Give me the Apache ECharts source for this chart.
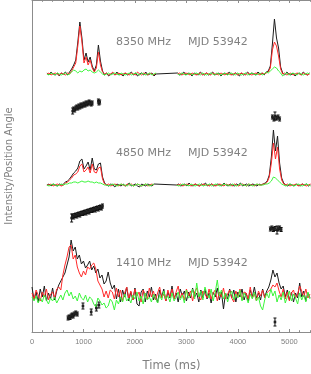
<!DOCTYPE html>
<html>
<head>
<meta charset="utf-8">
<script src="https://cdn.jsdelivr.net/npm/echarts@6/dist/echarts.min.js"></script>
<style>html,body{margin:0;padding:0;background:#fff}#c{width:311px;height:374px}</style>
</head>
<body>
<div id="c"></div>
<script>
// ---- Data (time step 40 ms) ----
const STEP = 40;
const X_MIN = 0, X_MAX = 5420;
const X_TICKS = [0, 1000, 2000, 3000, 4000, 5000];
const BANDS = ['8350 MHz', '4850 MHz', '1410 MHz'];
const EPOCH = 'MJD 53942';

// 8350 MHz: two segments, starting 290 ms and 2830 ms
const START_8350 = [290, 2830];
const I8350a = [1,-1,2,0,-1,1,-2,1,0,2,-1,2, 5,9,14,32,52,36,14,21,12,17,8,3,9,29,13,3, -1,1,-2,0,1,-1,2,-1,0,-2,1,-1,0,2,-1,1,-2,0,1,-1,2,-1,0,1,-2,0];
const L8350a = [0,1,-1,0,1,0,-1,1,0,-1,1,0, 3,7,11,28,48,32,11,17,9,14,6,2,6,22,9,2, 0,1,-1,0,2,-1,0,1,-1,0,1,0,-1,1,0,-1,2,0,-1,1,0,-1,1,0,-1,1];
const V8350a = [0,-1,1,0,-1,1,0,-1,0,1,-1,0, 2,4,3,1,3,2,4,5,3,4,2,1,2,4,2,0, -1,0,1,-1,0,1,0,-1,1,0,-1,0,1,-1,0,1,0,-1,1,0,-1,0,1,-1,0,1];
const I8350b = [1,-1,0,2,-1,1,0,-2,1,0,-1,2,0,-1,1,-1,0,2,-1,0,1,-2,0,1,-1,2,0,-1,1,0,-2,1,-1,0,2,-1,1,0,-1,2,0,1,-1,2, 3,8,30,55,36,26,7,1, -1,2,0,-1,1,-2,0,1,-1,2,0,-1,1];
const L8350b = [0,1,-1,0,1,0,-1,1,0,-1,0,1,-1,0,1,0,-1,1,0,0,-1,1,0,-1,1,0,-1,0,1,-1,0,1,0,-1,1,0,-1,0,1,0,-1,1,0,1, 2,6,24,32,28,18,5,0, 1,-1,0,1,-1,0,1,0,-1,1,0,-1,0];
const V8350b = [0,-1,1,0,-1,0,1,-1,0,1,0,-1,1,0,-1,0,1,0,-1,1,0,-1,0,1,-1,0,1,0,-1,1,0,-1,0,1,-1,0,1,0,-1,0,1,-1,0,2, 1,3,5,7,6,3,1,-2, 0,1,-1,0,1,0,-1,1,0,-1,0,1,0];

// 4850 MHz: two segments, starting 290 ms and 2810 ms
const START_4850 = [290, 2810];
const I4850a = [0,1,-1,1,0,-1,1,0, 1,3,4,6,9,12,14,17,24,26,16,19,23,15,27,16,15,21,22,8,2,0, -1,1,0,-2,1,0,-1,1,-1,0,2,-1,0,1,-1,-2,1,0,-1,1,0,-1,1];
const L4850a = [0,0,1,-1,0,1,0,-1, 0,2,3,5,7,10,11,13,19,21,13,15,18,12,21,13,12,17,18,6,1,0, 1,-1,0,1,0,-1,1,0,-1,1,0,1,-1,0,1,0,-1,0,1,-1,0,1,0];
const V4850a = [0,-1,0,1,0,-1,0,1, 0,1,1,2,2,3,3,2,3,4,3,3,4,3,3,2,3,2,2,1,0,0, -1,0,1,0,-1,0,1,0,0,-1,1,0,-1,0,1,0,-1,0,1,0,-1,0,1];
const I4850b = [0,1,-1,0,1,-1,2,0,-1,1,0,-1,1,0,2,-1,0,1,-1,0,1,0,-1,2,0,-1,1,0,-1,1,0,2,-1,0,1,-1,0,1,0,-1,1,0, 1,2,4,10,28,55,34,49,22,7,2, 0,-1,1,0,-1,1,0,-1,1,0,1,-1,0];
const L4850b = [0,0,1,-1,0,1,0,-1,0,1,0,-1,0,1,0,0,-1,1,0,-1,0,1,0,-1,1,0,0,-1,1,0,-1,0,1,0,-1,1,0,0,-1,1,0,0, 1,1,3,8,22,42,26,38,16,5,1, 0,1,-1,0,0,1,-1,0,1,0,-1,0,1];
const V4850b = [0,-1,0,1,0,0,-1,1,0,-1,0,1,0,-1,0,0,1,-1,0,1,0,-1,0,1,0,0,-1,1,0,-1,0,1,0,0,-1,1,0,-1,0,1,0,0, 0,1,1,2,4,8,7,5,3,1,0, -1,0,1,0,-1,0,1,0,-1,0,1,0,-1];

// 1410 MHz: one segment from 0 ms
const START_1410 = 0;
const I1410 = [8,-5,3,-7,6,-2,9,-6,2,-4,7,-5,4,
  10,14,18,22,30,38,55,44,48,36,40,31,34,27,30,34,25,29,22,26,17,20,11,14,23,12,6,10,
  -4,6,-7,5,-2,8,-6,3,-5,7,-9,-11,3,6,-7,4,-2,8,-5,1,-8,5,-2,6,-6,3,-3,9,-4,2,
  -7,6,-1,4,-6,3,-3,7,-2,2,-7,5,-3,6,-4,2,-8,3,-2,7,-5,3,-14,2,-4,6,-3,5,-7,3,
  -2,6,-5,2,-6,5,-2,8,-3,2,-5,6,-2,4,
  8,15,25,18,22,12,6,9,
  -2,5,-5,3,-7,2,-3,12,-2,4,-6,2,-3];
const L1410 = [2,-4,5,0,-6,3,-2,6,-5,1,3,-3,6,
  8,5,20,30,38,48,50,36,40,28,22,18,24,20,28,26,30,32,26,14,10,6,-2,4,-3,5,
  3,-4,7,-2,5,-6,2,8,-3,4,-5,6,-1,3,-7,5,0,-4,7,-2,4,-5,2,8,-3,1,-6,5,-2,6,
  -4,3,9,-3,2,-5,6,-1,4,-6,3,7,-2,-5,4,1,-3,6,-4,2,5,-6,3,-2,7,-4,1,5,-3,-7,
  4,-2,6,-5,3,2,-4,8,-3,1,-6,4,-1,5,-3,2,
  4,6,10,8,12,4,-2,6,
  -4,3,-6,2,5,-3,1,9,4,-2,6,-3,1];
const V1410 = [-2,-6,-1,-8,-3,-7,0,-5,-9,-3, -6,-2,-8,-4,0,-5,2,5,-1,3,
  -4,-1,-6,2,-3,-5,0,-7,-2,-4, -9,-12,-3,-6,-10,-8,-13,-11,-4,-7,
  -15,-5,-9,-2,-7,1,-6,-3,-8,0, -4,3,-6,-1,-9,2,-5,-2,-7,1,
  -3,-8,0,-5,4,-4,-1,-7,2,-6, -2,3,-5,0,-8,5,-3,-1,6,-4,
  12,-2,4,-5,8,1,-3,6,-6,3, 15,-1,5,-4,2,-7,0,4,-5,1,
  -3,5,-6,2,-2,-8,1,-4,3,-6, -2,-11,-15,-5,2,-3,6,-1,4,-7,
  0,-5,3,-8,-2,4,-6,1,-3,-9, 2,-5,0,-7,3,-4];

// Position angle points: [time ms, value on plot scale, error]
const PA8350 = [[790,221,3],[810,223,2],[830,222,2],[850,224,2],[870,225,2],[890,224,2],[910,226,2],[930,225,2],[950,227,2],[970,226,2],[990,227,2],[1010,228,2],[1030,227,2],[1050,229,2],[1070,228,2],[1090,229,2],[1110,230,2],[1130,229,2],[1150,228,2],[1170,229,2],[1290,231,2],[1300,229,2],[1315,230,2],
  [4670,215,2],[4700,213,2],[4720,216,4],[4750,214,2],[4780,215,2],[4810,213,2]];
const PA4850 = [[770,114,4],[790,116,2],[810,115,2],[830,116.5,2],[850,117,2],[870,116,2],[890,117.5,2],[910,118,2],[930,117,2],[950,118.5,2],[970,119,2],[990,118.5,2],[1010,119.5,2],[1030,120,2],[1050,119,2],[1070,120.5,2],[1090,121,2],[1110,120,2],[1130,121.5,2],[1150,122,2],[1170,121.5,2],[1190,122.5,2],[1210,123,2],[1230,122,2],[1250,123.5,2],[1270,124,2],[1290,123,2],[1310,124.5,2],[1330,125,2],[1350,124,2],[1370,126,2],
  [4630,103,2],[4660,104,2],[4690,102.5,2],[4720,103.5,2],[4760,102,4],[4780,103,2],[4810,104,2],[4840,102.5,2]];
const PA1410 = [[700,14,2],[720,15,2],[740,14.5,2],[760,16,2],[780,17,2],[800,16,2],[820,18,2],[850,19,2],[880,18,2],[990,26,3],[1150,20,3],[1250,24,3],[1300,27,3],[4720,10,4]];

// ---- layout constants (plot scale offsets for each panel baseline) ----
const OFF = {p8350: 258, p4850: 147, p1410: 37};

function seg(start, vals, off) { return vals.map((v, i) => [start + i * STEP, v + off]); }
function joinSegs(a, b, gap) { return gap ? a.concat([[(a[a.length-1][0] + b[0][0]) / 2, '-']], b) : a.concat(b); }

const black8350 = joinSegs(seg(START_8350[0], I8350a, OFF.p8350), seg(START_8350[1], I8350b, OFF.p8350), false);
const red8350 = joinSegs(seg(START_8350[0], L8350a, OFF.p8350), seg(START_8350[1], L8350b, OFF.p8350), true);
const green8350 = joinSegs(seg(START_8350[0], V8350a, OFF.p8350), seg(START_8350[1], V8350b, OFF.p8350), true);
const black4850 = joinSegs(seg(START_4850[0], I4850a, OFF.p4850), seg(START_4850[1], I4850b, OFF.p4850), false);
const red4850 = joinSegs(seg(START_4850[0], L4850a, OFF.p4850), seg(START_4850[1], L4850b, OFF.p4850), true);
const green4850 = joinSegs(seg(START_4850[0], V4850a, OFF.p4850), seg(START_4850[1], V4850b, OFF.p4850), true);
const black1410 = seg(START_1410, I1410, OFF.p1410);
const red1410 = seg(START_1410, L1410, OFF.p1410);
const green1410 = seg(START_1410, V1410, OFF.p1410);

const C_I = '#1c1c1c', C_L = '#ff2a2a', C_V = '#3cf53c';
function lineS(data, color) {
  return {type: 'line', data, showSymbol: false, symbol: 'none', silent: true, animation: false,
    lineStyle: {color, width: 1}, itemStyle: {color}, connectNulls: false, sampling: null};
}

const chart = echarts.init(document.getElementById('c'), null, {renderer: 'canvas'});
const axisGray = '#8c8c8c';
const textGray = '#808080';
const FONT = 'DejaVu Sans';

chart.setOption({
  animation: false,
  grid: {left: 32, right: 0, top: 0, bottom: 42, containLabel: false, outerBoundsMode: 'none'},
  xAxis: [{
    type: 'value', min: X_MIN, max: X_MAX, interval: 1000, position: 'bottom',
    axisLine: {show: true, lineStyle: {color: axisGray, width: 1}},
    axisTick: {show: true, inside: true, length: 3, lineStyle: {color: axisGray}},
    minorTick: {show: true, splitNumber: 5, length: 1.8, lineStyle: {color: axisGray}},
    splitLine: {show: false},
    axisLabel: {show: true, color: textGray, fontSize: 7.5, fontFamily: 'Liberation Sans', margin: 6, showMaxLabel: false,
      formatter: v => (X_TICKS.indexOf(v) >= 0 ? String(v) : '')},
    name: 'Time (ms)', nameLocation: 'middle', nameGap: 28,
    nameTextStyle: {color: textGray, fontSize: 11.5, fontFamily: FONT}
  }, {
    type: 'value', min: X_MIN, max: X_MAX, interval: 1000, position: 'top',
    axisLine: {show: true, lineStyle: {color: axisGray, width: 1}},
    axisTick: {show: true, inside: true, length: 3, lineStyle: {color: axisGray}},
    minorTick: {show: true, splitNumber: 5, length: 1.8, lineStyle: {color: axisGray}},
    splitLine: {show: false}, axisLabel: {show: false}
  }],
  yAxis: {
    type: 'value', min: 0, max: 332,
    axisLine: {show: true, lineStyle: {color: axisGray, width: 1}},
    axisTick: {show: false}, axisLabel: {show: false}, splitLine: {show: false},
    name: 'Intensity/Position Angle', nameLocation: 'middle', nameGap: 18, nameRotate: 90,
    nameTextStyle: {color: textGray, fontSize: 10, fontFamily: FONT}
  },
  graphic: [
    {type: 'text', left: 116, top: 37, silent: true, style: {text: BANDS[0], fill: textGray, font: '11px "DejaVu Sans"'}},
    {type: 'text', left: 188, top: 37, silent: true, style: {text: EPOCH, fill: textGray, font: '11px "DejaVu Sans"'}},
    {type: 'text', left: 116, top: 148, silent: true, style: {text: BANDS[1], fill: textGray, font: '11px "DejaVu Sans"'}},
    {type: 'text', left: 188, top: 148, silent: true, style: {text: EPOCH, fill: textGray, font: '11px "DejaVu Sans"'}},
    {type: 'text', left: 116, top: 258, silent: true, style: {text: BANDS[2], fill: textGray, font: '11px "DejaVu Sans"'}},
    {type: 'text', left: 188, top: 258, silent: true, style: {text: EPOCH, fill: textGray, font: '11px "DejaVu Sans"'}}
  ],
  series: [
    lineS(black8350, C_I), lineS(black4850, C_I), lineS(black1410, C_I),
    lineS(red8350, C_L), lineS(red4850, C_L), lineS(red1410, C_L),
    lineS(green8350, C_V), lineS(green4850, C_V), lineS(green1410, C_V),
    {
      type: 'custom', silent: true, animation: false,
      data: PA8350.concat(PA4850, PA1410),
      encode: {x: 0, y: 1},
      renderItem: function (params, api) {
        const x = api.value(0), y = api.value(1), e = api.value(2);
        const t = api.coord([x, y + e]), b = api.coord([x, y - e]), c = api.coord([x, y]);
        const st = {stroke: '#111', lineWidth: 1};
        return {type: 'group', children: [
          {type: 'line', shape: {x1: t[0], y1: t[1], x2: b[0], y2: b[1]}, style: st},
          {type: 'line', shape: {x1: t[0] - 1.5, y1: t[1], x2: t[0] + 1.5, y2: t[1]}, style: st},
          {type: 'line', shape: {x1: b[0] - 1.5, y1: b[1], x2: b[0] + 1.5, y2: b[1]}, style: st},
          {type: 'rect', shape: {x: c[0] - 1.3, y: c[1] - 1.3, width: 2.6, height: 2.6}, style: {fill: '#222'}}
        ]};
      }
    }
  ]
});
</script>
</body>
</html>
